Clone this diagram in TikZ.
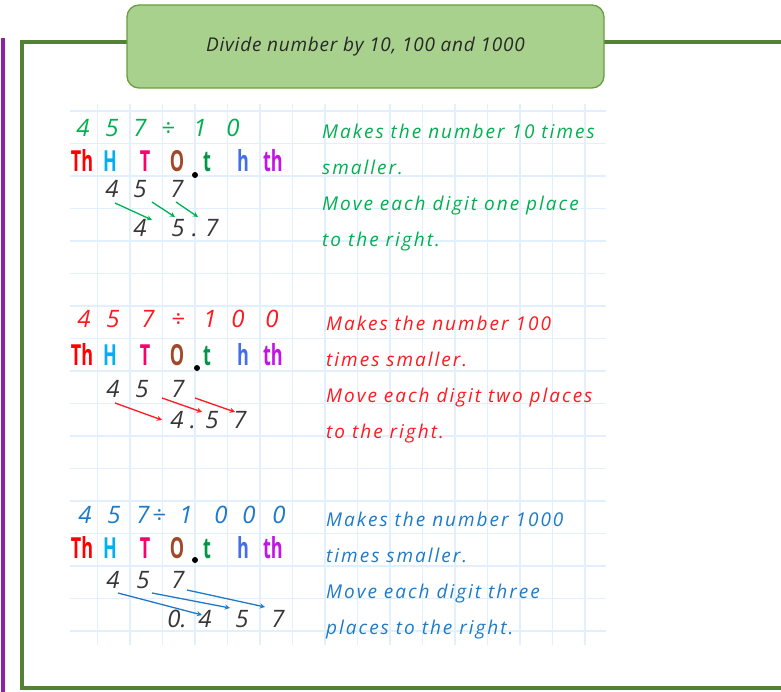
\documentclass[tikz,border=0pt]{standalone}
\usepackage{fontspec}
\usepackage{graphicx}
\setmainfont{Open Sans}
\newfontfamily\handfont[LetterSpace=10.5]{Open Sans}
\newfontfamily\titlefont[LetterSpace=4]{Open Sans}
\usetikzlibrary{calc}

\definecolor{frame}{RGB}{84,130,53}
\definecolor{titlefill}{RGB}{169,209,142}
\definecolor{titleline}{RGB}{106,158,63}
\definecolor{sidebar}{RGB}{140,35,165}
\definecolor{gridline}{RGB}{226,239,255}
\definecolor{tengreen}{RGB}{0,176,80}
\definecolor{hundred}{RGB}{255,25,30}
\definecolor{thousand}{RGB}{30,122,200}
\definecolor{digitgray}{RGB}{55,55,55}
\definecolor{pvTh}{RGB}{255,0,0}
\definecolor{pvH}{RGB}{0,176,240}
\definecolor{pvT}{RGB}{250,0,110}
\definecolor{pvO}{RGB}{160,72,40}
\definecolor{pvt}{RGB}{0,150,70}
\definecolor{pvh}{RGB}{70,110,230}
\definecolor{pvth}{RGB}{195,20,230}

\begin{document}
\begin{tikzpicture}[
    x=1pt,y=-1pt,
    digit/.style={inner sep=0pt,anchor=base,font=\fontsize{24}{24}\selectfont\itshape},
    place/.style={inner sep=0pt,anchor=base,font=\fontsize{29}{29}\selectfont\bfseries},
    note/.style={inner sep=0pt,anchor=base west,align=left,font=\fontsize{19}{36}\handfont\itshape},
    dot/.style={circle,fill=black,inner sep=0pt,minimum size=6pt},
    arrow/.style={->,>=stealth,line width=1.3pt}
]
\useasboundingbox (0,0) rectangle (781,692);

\foreach \gx in {0,...,15}
  \draw[gridline,line width=1.6pt] (97.5+32.5*\gx,104) -- (97.5+32.5*\gx,645);
\foreach \gy in {0,...,16}
  \draw[gridline,line width=1.6pt] (70,111+32.5*\gy) -- (606,111+32.5*\gy);

\draw[sidebar,line width=4pt] (3,38) -- (3,700);
\draw[frame,line width=4.5pt] (22,42) rectangle (800,688);
\node[draw=titleline,fill=titlefill,rounded corners=12pt,line width=1.3pt,
      minimum width=477pt,minimum height=83pt,text={rgb,255:red,40;green,40;blue,40},
      font=\fontsize{19}{19}\titlefont\itshape] (title) at (365.5,46.5) {Divide number by 10, 100 and 1000};

\node[digit,text=tengreen] (e1a) at (83,137) {4};
\node[digit,text=tengreen] (e1b) at (112,137) {5};
\node[digit,text=tengreen] (e1c) at (140,137) {7};
\node[digit,text=tengreen] (e1d) at (168,137) {÷};
\node[digit,text=tengreen] (e1e) at (200,137) {1};
\node[digit,text=tengreen] (e1f) at (233,137) {0};
\node[place,text=pvTh] (Th1) at (82,172) {\scalebox{0.62}[1]{Th}};
\node[place,text=pvH] (H1) at (110,172) {\scalebox{0.62}[1]{H}};
\node[place,text=pvT] (T1) at (145,172) {\scalebox{0.62}[1]{T}};
\node[place,text=pvO] (O1) at (177,172) {\scalebox{0.62}[1]{O}};
\node[dot] (pt1) at (195,175) {};
\node[place,text=pvt] (t1) at (207,172) {\scalebox{0.62}[1]{t}};
\node[place,text=pvh] (h1) at (243,172) {\scalebox{0.62}[1]{h}};
\node[place,text=pvth] (th1) at (273,172) {\scalebox{0.62}[1]{th}};
\node[digit,text=digitgray] (d1a) at (112,198) {4};
\node[digit,text=digitgray] (d1b) at (140,198) {5};
\node[digit,text=digitgray] (d1c) at (177,198) {7};
\node[digit,text=digitgray] (r1a) at (140,237) {4};
\node[digit,text=digitgray] (r1b) at (178,237) {5};
\node[digit,text=digitgray] (r1c) at (195,237) {.};
\node[digit,text=digitgray] (r1d) at (212,237) {7};
\draw[arrow,tengreen] ($(d1a.base)+(3,5)$) -- ($(r1a.base)+(12,-17)$);
\draw[arrow,tengreen] ($(d1b.base)+(12,4)$) -- ($(r1b.base)+(-3,-20)$);
\draw[arrow,tengreen] ($(d1c.base)+(-1,4)$) -- ($(r1c.base)+(3,-20)$);
\node[note,text=tengreen] (n1) at (322,247) {Makes the number 10 times\\smaller.\\Move each digit one place\\to the right.};

\node[digit,text=hundred] (e2a) at (84,327) {4};
\node[digit,text=hundred] (e2b) at (113,327) {5};
\node[digit,text=hundred] (e2c) at (148,327) {7};
\node[digit,text=hundred] (e2d) at (178,327) {÷};
\node[digit,text=hundred] (e2e) at (210,327) {1};
\node[digit,text=hundred] (e2f) at (238,327) {0};
\node[digit,text=hundred] (e2g) at (272,327) {0};
\node[place,text=pvTh] (Th2) at (82,365) {\scalebox{0.62}[1]{Th}};
\node[place,text=pvH] (H2) at (110,365) {\scalebox{0.62}[1]{H}};
\node[place,text=pvT] (T2) at (145,365) {\scalebox{0.62}[1]{T}};
\node[place,text=pvO] (O2) at (177,365) {\scalebox{0.62}[1]{O}};
\node[dot] (pt2) at (197,368) {};
\node[place,text=pvt] (t2) at (207,365) {\scalebox{0.62}[1]{t}};
\node[place,text=pvh] (h2) at (243,365) {\scalebox{0.62}[1]{h}};
\node[place,text=pvth] (th2) at (273,365) {\scalebox{0.62}[1]{th}};
\node[digit,text=digitgray] (d2a) at (113,397) {4};
\node[digit,text=digitgray] (d2b) at (142,397) {5};
\node[digit,text=digitgray] (d2c) at (178,397) {7};
\node[digit,text=digitgray] (r2a) at (177,428) {4};
\node[digit,text=digitgray] (r2b) at (193,428) {.};
\node[digit,text=digitgray] (r2c) at (212,428) {5};
\node[digit,text=digitgray] (r2d) at (240,428) {7};
\draw[arrow,hundred] ($(d2a.base)+(2,6)$) -- ($(r2a.base)+(-15,-8)$);
\draw[arrow,hundred] ($(d2b.base)+(20,1)$) -- ($(r2c.base)+(-10,-16)$);
\draw[arrow,hundred] ($(d2c.base)+(17,1)$) -- ($(r2d.base)+(-5,-16)$);
\node[note,text=hundred] (n2) at (326,438) {Makes the number 100\\times smaller.\\Move each digit two places\\to the right.};

\node[digit,text=thousand] (e3a) at (85,523) {4};
\node[digit,text=thousand] (e3b) at (114,523) {5};
\node[digit,text=thousand] (e3c) at (143,523) {7};
\node[digit,text=thousand] (e3d) at (159,523) {÷};
\node[digit,text=thousand] (e3e) at (186,523) {1};
\node[digit,text=thousand] (e3f) at (221,523) {0};
\node[digit,text=thousand] (e3g) at (249,523) {0};
\node[digit,text=thousand] (e3h) at (279,523) {0};
\node[place,text=pvTh] (Th3) at (82,558) {\scalebox{0.62}[1]{Th}};
\node[place,text=pvH] (H3) at (110,558) {\scalebox{0.62}[1]{H}};
\node[place,text=pvT] (T3) at (145,558) {\scalebox{0.62}[1]{T}};
\node[place,text=pvO] (O3) at (177,558) {\scalebox{0.62}[1]{O}};
\node[dot] (pt3) at (195,560) {};
\node[place,text=pvt] (t3) at (207,558) {\scalebox{0.62}[1]{t}};
\node[place,text=pvh] (h3) at (243,558) {\scalebox{0.62}[1]{h}};
\node[place,text=pvth] (th3) at (273,558) {\scalebox{0.62}[1]{th}};
\node[digit,text=digitgray] (d3a) at (113,588) {4};
\node[digit,text=digitgray] (d3b) at (143,588) {5};
\node[digit,text=digitgray] (d3c) at (178,588) {7};
\node[digit,text=digitgray] (r3a) at (177,627) {0.};
\node[digit,text=digitgray] (r3b) at (205,627) {4};
\node[digit,text=digitgray] (r3c) at (242,627) {5};
\node[digit,text=digitgray] (r3d) at (278,627) {7};
\draw[arrow,thousand] ($(d3a.base)+(5,5)$) -- ($(r3b.base)+(-3,-12)$);
\draw[arrow,thousand] ($(d3b.base)+(9,5)$) -- ($(r3c.base)+(-12,-19)$);
\draw[arrow,thousand] ($(d3c.base)+(9,2)$) -- ($(r3d.base)+(-13,-20)$);
\node[note,text=thousand] (n3) at (326,634) {Makes the number 1000\\times smaller.\\Move each digit three\\places to the right.};
\end{tikzpicture}
\end{document}
